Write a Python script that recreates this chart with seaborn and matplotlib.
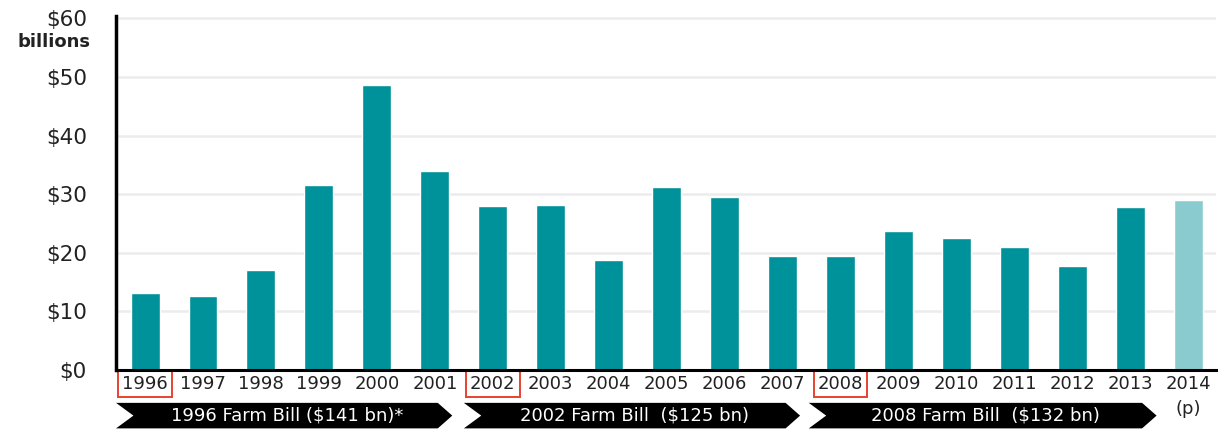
import matplotlib
matplotlib.use("Agg")
import matplotlib.pyplot as plt
import matplotlib.transforms as mtransforms
from matplotlib.patches import Polygon
import seaborn as sns
import pandas as pd

years = ["1996", "1997", "1998", "1999", "2000", "2001", "2002", "2003", "2004", "2005",
         "2006", "2007", "2008", "2009", "2010", "2011", "2012", "2013", "2014"]
tick_labels = ["1996", "1997", "1998", "1999", "2000", "2001", "2002", "2003", "2004", "2005",
               "2006", "2007", "2008", "2009", "2010", "2011", "2012", "2013", "2014\n(p)"]
payments = [13.1, 12.6, 17.0, 31.5, 48.6, 33.9, 27.9, 28.1, 18.7, 31.2,
            29.5, 19.4, 19.4, 23.7, 22.5, 21.0, 17.7, 27.8, 29.0]
highlight_years = ["1996", "2002", "2008"]
bill_labels = ["1996 Farm Bill ($141 bn)*", "2002 Farm Bill  ($125 bn)", "2008 Farm Bill  ($132 bn)"]
bill_spans = [(-0.5, 5.3), (5.5, 11.3), (11.45, 17.45)]
y_ticks = [0, 10, 20, 30, 40, 50, 60]

teal = "#00929A"
light_teal = "#8ACBD0"
palette = {y: (light_teal if y == "2014" else teal) for y in years}

df = pd.DataFrame({"year": years, "value": payments})

sns.set_theme(style="white")
plt.rcParams["font.family"] = ["DejaVu Sans"]

fig = plt.figure(figsize=(12.28, 4.43), dpi=100)
ax = fig.add_axes([0.0945, 0.165, 0.8955, 0.800])

sns.barplot(data=df, x="year", y="value", hue="year", palette=palette,
            legend=False, width=0.5, ax=ax, saturation=1)

ax.set_ylim(0, 60.5)
ax.set_xlim(-0.5, 18.47)
ax.set_yticks(y_ticks)
ax.set_yticklabels([f"${v}" for v in y_ticks], fontsize=15.5, color="#222222")
ax.set_xticks(range(len(years)))
ax.set_xticklabels(tick_labels, fontsize=13, color="#222222", linespacing=1.5)
ax.tick_params(axis="y", length=0, pad=21)
ax.tick_params(axis="x", length=0, pad=4)
ax.set_xlabel("")
ax.set_ylabel("")
ax.yaxis.grid(True, color="#ececec", linewidth=1.8)
ax.set_axisbelow(True)
for s in ["top", "right"]:
    ax.spines[s].set_visible(False)
ax.spines["left"].set_color("black")
ax.spines["left"].set_linewidth(2.5)
ax.spines["bottom"].set_color("black")
ax.spines["bottom"].set_linewidth(2.2)

ax.text(-0.023, 0.925, "billions", transform=ax.transAxes, ha="right", va="center",
        fontsize=13, fontweight="bold", color="#222222")

# red boxes around bill start years
for lbl in ax.get_xticklabels():
    if lbl.get_text() in highlight_years:
        lbl.set_bbox(dict(boxstyle="square,pad=0.22", facecolor="none",
                          edgecolor="#E8432E", linewidth=1.4))

# banners
trans = mtransforms.blended_transform_factory(ax.transData, ax.transAxes)
y0, y1 = -0.093, -0.165
ym = (y0 + y1) / 2
notch = 0.3
tip = 0.25
for (x0, x1), txt in zip(bill_spans, bill_labels):
    poly = Polygon([(x0, y0), (x1 - tip, y0), (x1, ym), (x1 - tip, y1), (x0, y1), (x0 + notch, ym)],
                   closed=True, transform=trans, facecolor="black", edgecolor="none",
                   clip_on=False)
    ax.add_patch(poly)
    ax.text((x0 + x1) / 2 + 0.05, ym, txt, transform=trans, ha="center", va="center",
            color="white", fontsize=13)

fig.savefig("out.png", dpi=100, facecolor="white")
